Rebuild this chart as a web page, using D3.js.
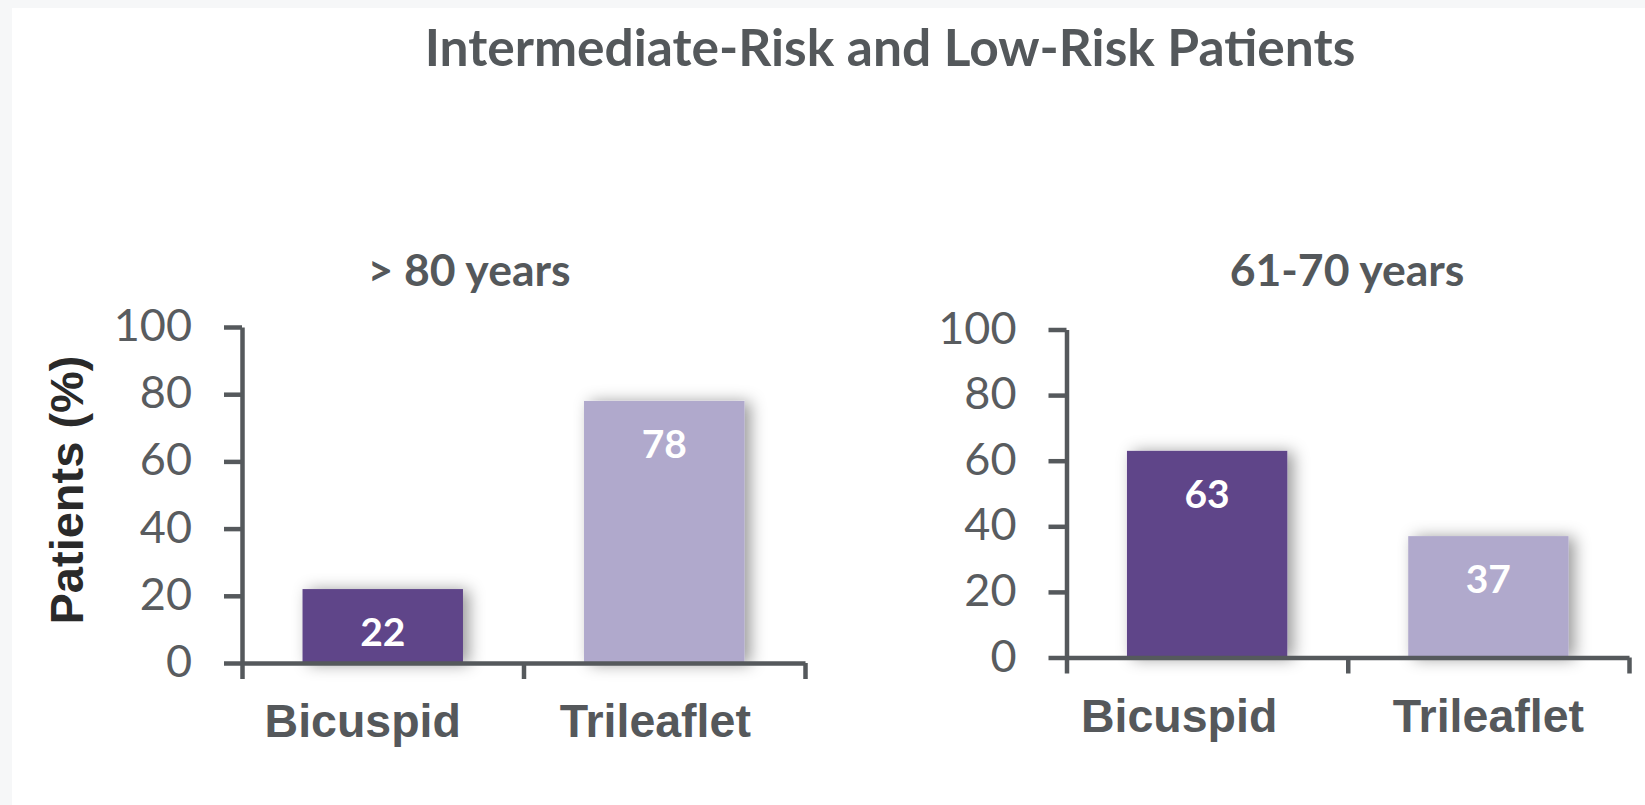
<!DOCTYPE html>
<html>
<head>
<meta charset="utf-8">
<script src="https://cdn.jsdelivr.net/npm/d3@7/dist/d3.min.js"></script>
<style>
  html, body { margin: 0; padding: 0; background: #f6f7f8; }
  svg { display: block; }
</style>
</head>
<body>
<svg id="chart" width="1645" height="805"></svg>
<script>
// ---- data ----
const chartTitle = "Intermediate-Risk and Low-Risk Patients";
const panelTitles = ["> 80 years", "61-70 years"];
const categories = ["Bicuspid", "Trileaflet"];
const over80Values = [22, 78];
const age61to70Values = [63, 37];
const yTickValues = [0, 20, 40, 60, 80, 100];
const yAxisTitle = "Patients (%)";

// ---- styling / layout ----
const barColors = ["#5f4589", "#b0a9cc"];
const inkGray = "#55595c";
const panelLayout = [
  { left: 242, right: 805, top: 327, bottom: 663, titleX: 469, labelShift: [-20, -9] },
  { left: 1066.5, right: 1629, top: 329.5, bottom: 657.5, titleX: 1347, labelShift: [-28, 0] }
];
const panelValues = [over80Values, age61to70Values];

const svg = d3.select("#chart");

// white page with a thin grey margin at the top and left edges
svg.append("rect").attr("x", 12).attr("y", 8).attr("width", 1645).attr("height", 805).attr("fill", "#ffffff");

const defs = svg.append("defs");
defs.append("filter")
  .attr("id", "barShadow")
  .attr("x", "-30%").attr("y", "-30%").attr("width", "170%").attr("height", "160%")
  .append("feDropShadow")
  .attr("dx", 6).attr("dy", 1)
  .attr("stdDeviation", 8)
  .attr("flood-color", "#000")
  .attr("flood-opacity", 0.4);

svg.append("text")
  .attr("x", 890).attr("y", 66)
  .attr("text-anchor", "middle")
  .attr("font-family", "Lato, sans-serif")
  .attr("font-weight", 700)
  .attr("font-size", 51.5)
  .attr("fill", "#54585b")
  .text(chartTitle);

svg.append("text")
  .attr("transform", "translate(83,490) rotate(-90)")
  .attr("text-anchor", "middle")
  .attr("font-family", "'Liberation Sans', Arial, sans-serif")
  .attr("font-weight", 700)
  .attr("font-size", 47)
  .attr("fill", "#2a2a2a")
  .text(yAxisTitle);

panelLayout.forEach((p, i) => {
  const values = panelValues[i];
  const g = svg.append("g");

  const y = d3.scaleLinear().domain([0, 100]).range([p.bottom, p.top]);
  const x = d3.scaleBand().domain(categories).range([p.left, p.right])
    .paddingInner(0.43).paddingOuter(0.215);
  const cells = d3.scaleLinear().domain([0, categories.length]).range([p.left, p.right]);

  g.append("text")
    .attr("x", p.titleX).attr("y", 286)
    .attr("text-anchor", "middle")
    .attr("font-family", "Lato, sans-serif")
    .attr("font-weight", 700)
    .attr("font-size", 44.5)
    .attr("fill", "#54585b")
    .text(panelTitles[i]);

  // bars
  g.selectAll("rect.bar")
    .data(categories)
    .join("rect")
    .attr("class", "bar")
    .attr("x", d => x(d))
    .attr("width", x.bandwidth())
    .attr("y", (d, j) => y(values[j]))
    .attr("height", (d, j) => y(0) - y(values[j]))
    .attr("fill", (d, j) => barColors[j])
    .attr("filter", "url(#barShadow)");

  // value labels inside bars
  g.selectAll("text.value")
    .data(categories)
    .join("text")
    .attr("class", "value")
    .attr("x", d => x(d) + x.bandwidth() / 2)
    .attr("y", (d, j) => y(values[j]) + 57)
    .attr("text-anchor", "middle")
    .attr("font-family", "Lato, sans-serif")
    .attr("font-weight", 700)
    .attr("font-size", 39)
    .attr("fill", "#ffffff")
    .text((d, j) => values[j]);

  // y axis
  const yAxis = g.append("g")
    .attr("transform", `translate(${p.left},0)`)
    .call(d3.axisLeft(y).tickValues(yTickValues).tickSize(18).tickSizeOuter(0).tickPadding(32));
  yAxis.select(".domain").attr("stroke", inkGray).attr("stroke-width", 4.5);
  yAxis.selectAll(".tick line").attr("stroke", inkGray).attr("stroke-width", 4.5);
  yAxis.selectAll(".tick text")
    .attr("font-family", "Lato, sans-serif")
    .attr("font-size", 45)
    .attr("fill", "#595c5f")
    .attr("dy", "0.3em");

  // x axis with ticks on category boundaries
  const xAxis = g.append("g")
    .attr("transform", `translate(0,${p.bottom})`)
    .call(d3.axisBottom(cells).tickValues(d3.range(categories.length + 1)).tickSize(16).tickSizeOuter(0).tickFormat(""));
  xAxis.select(".domain").attr("stroke", inkGray).attr("stroke-width", 4.5);
  xAxis.selectAll(".tick line").attr("stroke", inkGray).attr("stroke-width", 4.5);

  // category labels
  g.selectAll("text.cat")
    .data(categories)
    .join("text")
    .attr("class", "cat")
    .attr("x", (d, j) => x(d) + x.bandwidth() / 2 + p.labelShift[j])
    .attr("y", p.bottom + 74)
    .attr("text-anchor", "middle")
    .attr("font-family", "'Liberation Sans', Arial, sans-serif")
    .attr("font-weight", 700)
    .attr("font-size", 46.5)
    .attr("fill", "#55585b")
    .text(d => d);
});
</script>
</body>
</html>
